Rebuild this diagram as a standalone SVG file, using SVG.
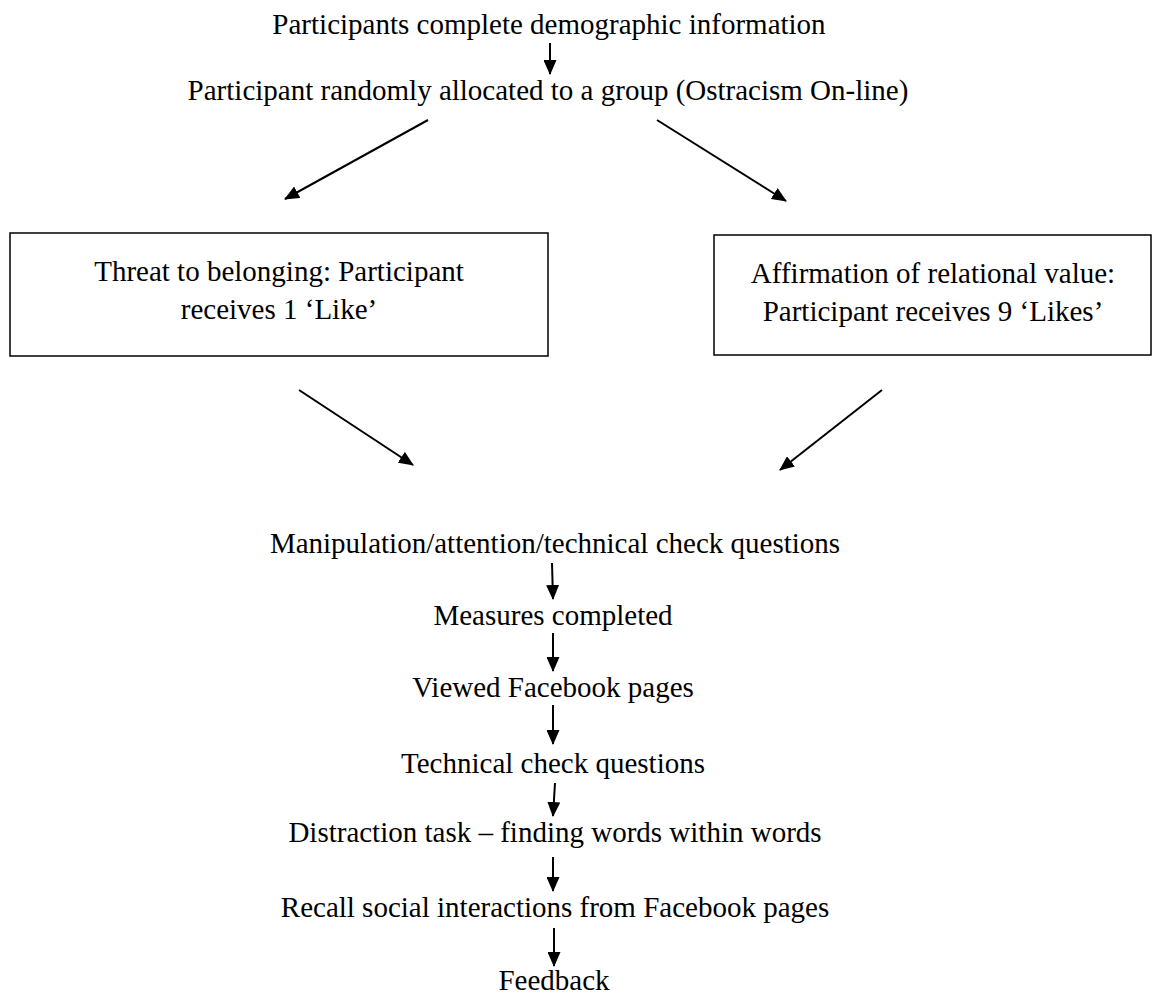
<svg xmlns="http://www.w3.org/2000/svg" width="1159" height="996" viewBox="0 0 1159 996">
<defs>
<marker id="ah" markerWidth="15" markerHeight="13" refX="14" refY="6.5" orient="auto" markerUnits="userSpaceOnUse" viewBox="0 0 15 13">
<path d="M0,0 L15,6.5 L0,13 z" fill="#000"/>
</marker>
<style>
text{font-family:"Liberation Serif","Times New Roman",serif;font-size:29px;fill:#000;text-anchor:middle}
.box{fill:#fff;stroke:#000;stroke-width:1.5}
.c line{stroke:#000;stroke-width:2;marker-end:url(#ah)}
</style>
</defs>
<rect width="1159" height="996" fill="#fff"/>
<g id="n1"><text x="549" y="34">Participants complete demographic information</text></g>
<g id="n2"><text x="548" y="100">Participant randomly allocated to a group (Ostracism On-line)</text></g>
<g id="n3"><rect class="box" x="10" y="233" width="538" height="123"/><text x="279" y="281">Threat to belonging: Participant</text><text x="279" y="319">receives 1 ‘Like’</text></g>
<g id="n4"><rect class="box" x="714" y="235" width="437" height="120"/><text x="933" y="283">Affirmation of relational value:</text><text x="933" y="321">Participant receives 9 ‘Likes’</text></g>
<g id="n5"><text x="555" y="553">Manipulation/attention/technical check questions</text></g>
<g id="n6"><text x="553" y="625">Measures completed</text></g>
<g id="n7"><text x="553" y="697">Viewed Facebook pages</text></g>
<g id="n8"><text x="553" y="773">Technical check questions</text></g>
<g id="n9"><text x="555" y="842">Distraction task – finding words within words</text></g>
<g id="n10"><text x="555" y="917">Recall social interactions from Facebook pages</text></g>
<g id="n11"><text x="554" y="990">Feedback</text></g>
<g class="c" id="connectors">
<line x1="550" y1="43" x2="550" y2="74"/>
<line x1="428" y1="120" x2="285" y2="199"/>
<line x1="657" y1="120" x2="786" y2="201"/>
<line x1="299" y1="390" x2="413" y2="465"/>
<line x1="882" y1="390" x2="780" y2="470"/>
<line x1="552" y1="563" x2="553" y2="599"/>
<line x1="553" y1="633" x2="553" y2="671"/>
<line x1="553" y1="705" x2="553" y2="744"/>
<line x1="555" y1="783" x2="553" y2="816"/>
<line x1="553" y1="857" x2="553" y2="891"/>
<line x1="554" y1="928" x2="554" y2="966"/>
</g>
</svg>
